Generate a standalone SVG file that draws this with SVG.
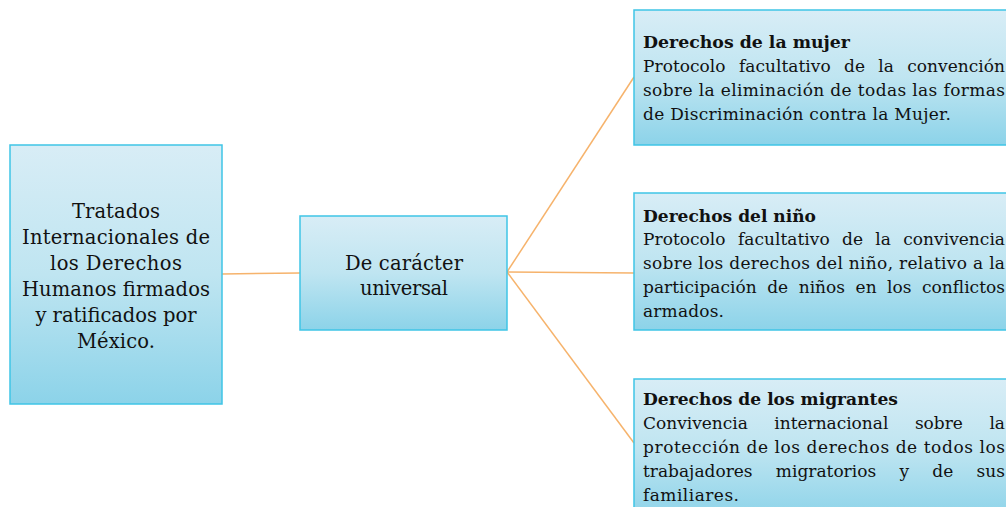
<svg xmlns="http://www.w3.org/2000/svg" width="1006" height="507" viewBox="0 0 1006 507">
<defs>
<linearGradient id="g" x1="0" y1="0" x2="0" y2="1">
<stop offset="0" stop-color="#d8edf6"/>
<stop offset="0.5" stop-color="#bfe5f1"/>
<stop offset="1" stop-color="#8cd3e9"/>
</linearGradient>
<style>
.box{fill:url(#g);stroke:#3fc5e6;stroke-width:1.5}
.t{font-family:"DejaVu Serif","Liberation Serif",serif;fill:#111111}
.c{font-size:19.5px;text-anchor:middle}
.r{font-size:17px}
.b{font-weight:bold}
.conn{stroke:#f6b36c;stroke-width:1.5;fill:none}
</style>
</defs>
<rect width="1006" height="507" fill="#ffffff"/>
<g id="connectors">
<line class="conn" x1="222" y1="274" x2="300" y2="273"/>
<line class="conn" x1="507" y1="272" x2="634" y2="77"/>
<line class="conn" x1="507" y1="272" x2="634" y2="273"/>
<line class="conn" x1="507" y1="272" x2="634" y2="443"/>
</g>
<g id="node-tratados">
<rect class="box" x="10" y="145" width="212" height="259"/>
<text class="t c" x="116" y="218" textLength="88" lengthAdjust="spacing">Tratados</text>
<text class="t c" x="116" y="244" textLength="188" lengthAdjust="spacing">Internacionales de</text>
<text class="t c" x="116" y="270" textLength="132" lengthAdjust="spacing">los Derechos</text>
<text class="t c" x="116" y="296" textLength="188" lengthAdjust="spacing">Humanos firmados</text>
<text class="t c" x="116" y="322" textLength="161" lengthAdjust="spacing">y ratificados por</text>
<text class="t c" x="116" y="348" textLength="78" lengthAdjust="spacing">México.</text>
</g>
<g id="node-universal">
<rect class="box" x="300" y="216" width="207" height="114"/>
<text class="t c" x="404" y="270" textLength="118" lengthAdjust="spacing">De carácter</text>
<text class="t c" x="404" y="295" textLength="88" lengthAdjust="spacing">universal</text>
</g>
<g id="node-mujer">
<rect class="box" x="634" y="10" width="380" height="135"/>
<text class="t r b" x="643" y="48" textLength="207" lengthAdjust="spacingAndGlyphs">Derechos de la mujer</text>
<text class="t r" x="643" y="72" word-spacing="7.9" textLength="362" lengthAdjust="spacing">Protocolo facultativo de la convención</text>
<text class="t r" x="643" y="96" textLength="362" lengthAdjust="spacing">sobre la eliminación de todas las formas</text>
<text class="t r" x="643" y="120" textLength="308" lengthAdjust="spacing">de Discriminación contra la Mujer.</text>
</g>
<g id="node-nino">
<rect class="box" x="634" y="193" width="380" height="137"/>
<text class="t r b" x="643" y="222" textLength="173" lengthAdjust="spacingAndGlyphs">Derechos del niño</text>
<text class="t r" x="643" y="245" word-spacing="6.9" textLength="362" lengthAdjust="spacing">Protocolo facultativo de la convivencia</text>
<text class="t r" x="643" y="269" textLength="362" lengthAdjust="spacing">sobre los derechos del niño, relativo a la</text>
<text class="t r" x="643" y="293" word-spacing="5.1" textLength="362" lengthAdjust="spacing">participación de niños en los conflictos</text>
<text class="t r" x="643" y="317" textLength="81" lengthAdjust="spacing">armados.</text>
</g>
<g id="node-migrantes">
<rect class="box" x="634" y="379" width="380" height="140"/>
<text class="t r b" x="643" y="405" textLength="255" lengthAdjust="spacingAndGlyphs">Derechos de los migrantes</text>
<text class="t r" x="643" y="429" word-spacing="21.2" textLength="362" lengthAdjust="spacing">Convivencia internacional sobre la</text>
<text class="t r" x="643" y="453" textLength="362" lengthAdjust="spacing">protección de los derechos de todos los</text>
<text class="t r" x="643" y="477" word-spacing="17.9" textLength="362" lengthAdjust="spacing">trabajadores migratorios y de sus</text>
<text class="t r" x="643" y="501" textLength="96" lengthAdjust="spacing">familiares.</text>
</g>
</svg>
